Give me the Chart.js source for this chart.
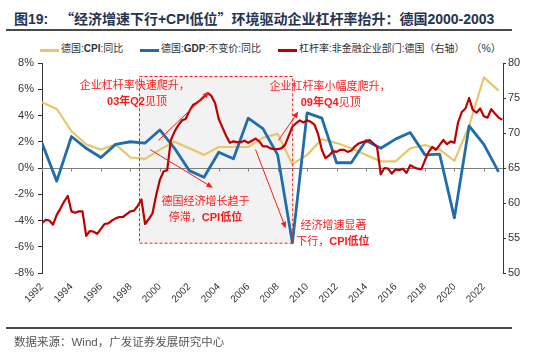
<!DOCTYPE html>
<html>
<head>
<meta charset="utf-8">
<script src="https://cdn.jsdelivr.net/npm/chart.js@4.4.0/dist/chart.umd.min.js"></script>
<style>
  body { margin: 0; width: 550px; height: 354px; background: #fff; position: relative; overflow: hidden;
         font-family: "Liberation Sans", "Noto Sans CJK SC", sans-serif; }
  #title { position: absolute; left: 14px; top: 8px; font-size: 14px; font-weight: bold; color: #233353; white-space: nowrap; }
  #title .q { font-family: "Noto Sans CJK SC", sans-serif; }
  .rule { position: absolute; left: 6px; width: 506px; height: 2px; background: #4a4a4a; }
  .leg { position: absolute; top: 43px; font-size: 10px; color: #333; white-space: nowrap; line-height: 12px; }
  .leg i { position: absolute; top: 6px; width: 19px; height: 3px; }
  .leg b { font-weight: bold; }
  #unit { position: absolute; left: 471px; top: 40px; font-size: 10.5px; color: #333; }
  #source { position: absolute; left: 14px; top: 333px; font-size: 11.5px; color: #555; white-space: nowrap; }
  canvas { position: absolute; left: 0; top: 0; }
</style>
</head>
<body>
<div id="title">图19:&nbsp;&nbsp;&nbsp;<span class="q">“</span>经济增速下行+CPI低位<span class="q">”</span>环境驱动企业杠杆率抬升：德国2000-2003</div>
<div class="rule" style="top:29px"></div>

<div class="leg" style="left:40px"><i style="left:0;background:#E6C76B"></i><span style="margin-left:21px">德国:<b>CPI</b>:同比</span></div>
<div class="leg" style="left:140px"><i style="left:0;background:#1F6DAD"></i><span style="margin-left:21px">德国:<b>GDP</b>:不变价:同比</span></div>
<div class="leg" style="left:278px"><i style="left:0;background:#C00000"></i><span style="margin-left:21px">杠杆率:非金融企业部门:德国（右轴）</span></div>
<div id="unit">（%）</div>

<canvas id="chart" width="550" height="354"></canvas>

<div class="rule" style="top:327px"></div>
<div id="source">数据来源：Wind，广发证券发展研究中心</div>

<script>
// ── Data ──
const years = [1992, 1993, 1994, 1995, 1996, 1997, 1998, 1999, 2000, 2001, 2002, 2003, 2004, 2005, 2006, 2007,
               2008, 2009, 2010, 2011, 2012, 2013, 2014, 2015, 2016, 2017, 2018, 2019, 2020, 2021, 2022, 2023];
// 德国:CPI:同比 (%)
const cpi = [5.0, 4.5, 2.8, 1.8, 1.4, 1.8, 0.8, 0.7, 1.4, 2.0, 1.5, 1.0, 1.6, 1.6, 1.6, 2.3,
             2.6, 0.3, 1.0, 2.2, 1.9, 1.5, 1.0, 0.5, 0.5, 1.5, 1.75, 1.4, 0.55, 3.2, 6.9, 5.9];
// 德国:GDP:不变价:同比 (%)
const gdp = [1.9, -1.0, 2.4, 1.5, 0.8, 1.8, 2.0, 1.9, 2.9, 1.5, -0.2, -0.7, 1.2, 0.7, 3.8, 3.0,
             1.0, -5.7, 4.2, 3.8, 0.4, 0.4, 2.1, 1.5, 2.2, 2.7, 1.0, 1.05, -3.8, 3.2, 1.8, -0.3];
// 杠杆率:非金融企业部门:德国 (%), quarterly from 1992Q1
const leverageStart = 1992;
const leverage = [
  57.1, 57.6, 57.5, 56.9, 58.3, 59.2, 60.2, 61.0, 58.8, 58.6, 58.8, 58.8,
  55.3, 56.0, 55.9, 55.6, 56.3, 57.0, 57.1, 57.5, 57.8, 58.0, 58.0, 58.4,
  58.8, 58.9, 59.6, 60.5, 57.0, 57.7, 58.5, 61.1, 63.3, 64.5, 64.7, 69.0,
  70.2, 71.1, 71.8, 72.0, 73.1, 74.0, 74.3, 74.7, 75.2, 75.7, 75.3, 74.3,
  72.0, 70.8, 69.6, 68.6, 68.8, 68.7, 68.7, 68.9, 68.6, 68.9, 69.2, 68.8,
  68.1, 68.1, 67.8, 67.7, 67.7, 67.8, 68.3, 69.6, 70.9, 71.4, 71.8, 71.5,
  71.8, 71.6, 71.2, 69.8, 67.6, 66.4, 66.8, 67.4, 67.3, 67.6, 67.6, 67.3,
  67.5, 68.1, 68.5, 68.7, 68.8, 69.0, 68.5, 68.0, 64.1, 65.0, 64.9, 64.2,
  64.8, 64.7, 64.9, 64.3, 65.4, 65.1, 64.9, 64.8, 66.1, 67.3, 68.0, 67.6,
  68.3, 69.0, 68.4, 68.8, 68.6, 71.5, 73.0, 73.5, 75.0, 73.3, 72.9, 73.5,
  72.4, 72.2, 73.4, 72.8, 72.2, 71.9
];

// ── Annotations (data coords: x = year, y = left axis %) ──
const shadeBox = { x0: 1998.6, x1: 2009, y0: -5.7, y1: 7 };
const arrows = [
  { from: [1999.9, 2.1], to: [2003.35, 5.8] },
  { from: [1999.35, 1.4], to: [2003.6, -1.5] },
  { from: [2006.5, 1.4], to: [2008.55, -4.6] },
  { from: [2008.05, 2.1], to: [2009.4, 4.3] },
];
const notes = [
  { x: 1998.3, y: 6.25, runs: [['企业杠杆率快速爬升，', false]] },
  { x: 1998.45, y: 5.05, runs: [['03年Q2', true], ['见顶', false]] },
  { x: 2003.1, y: -2.6, runs: [['德国经济增长趋于', false]] },
  { x: 2003.1, y: -3.8, runs: [['停滞，', false], ['CPI低位', true]] },
  { x: 2011.55, y: 6.2, runs: [['企业杠杆率小幅度爬升，', false]] },
  { x: 2011.6, y: 4.95, runs: [['09年Q4', true], ['见顶', false]] },
  { x: 2011.8, y: -4.45, runs: [['经济增速显著', false]] },
  { x: 2011.75, y: -5.6, runs: [['下行，', false], ['CPI低位', true]] },
];

const RED = '#FF1A1A';
const CJK = '"Liberation Sans", "Noto Sans CJK SC", sans-serif';

function drawRuns(ctx, runs, cx, cy) {
  const fontOf = b => (b ? 'bold ' : '') + '11px ' + CJK;
  const widths = runs.map(([t, b]) => { ctx.font = fontOf(b); return ctx.measureText(t).width; });
  let xx = cx - widths.reduce((a, w) => a + w, 0) / 2;
  runs.forEach(([t, b], i) => {
    ctx.font = fontOf(b);
    ctx.fillText(t, xx, cy);
    xx += widths[i];
  });
}

const annotPlugin = {
  id: 'annot',
  beforeDatasetsDraw(chart) {
    const { ctx, chartArea, scales: { x, y } } = chart;
    ctx.save();
    // shaded period
    const l = x.getPixelForValue(shadeBox.x0), r = x.getPixelForValue(shadeBox.x1);
    const t = y.getPixelForValue(shadeBox.y1), b = y.getPixelForValue(shadeBox.y0);
    ctx.fillStyle = '#F2F2F2';
    ctx.fillRect(l, t, r - l, b - t);
    // zero line with ticks
    const z = Math.round(y.getPixelForValue(0)) + 0.5;
    ctx.strokeStyle = '#7F7F7F';
    ctx.lineWidth = 1;
    ctx.beginPath();
    ctx.moveTo(chartArea.left, z);
    ctx.lineTo(chartArea.right, z);
    x.ticks.forEach(tk => {
      const px = Math.round(x.getPixelForValue(tk.value)) + 0.5;
      ctx.moveTo(px, z);
      ctx.lineTo(px, z + 3);
    });
    ctx.stroke();
    ctx.restore();
  },
  afterDatasetsDraw(chart) {
    const { ctx, scales: { x, y } } = chart;
    ctx.save();
    // dashed frame
    const l = x.getPixelForValue(shadeBox.x0), r = x.getPixelForValue(shadeBox.x1);
    const t = y.getPixelForValue(shadeBox.y1), b = y.getPixelForValue(shadeBox.y0);
    ctx.strokeStyle = RED;
    ctx.lineWidth = 1;
    ctx.setLineDash([3, 2]);
    ctx.strokeRect(Math.round(l) + 0.5, Math.round(t) + 0.5, r - l, b - t);
    ctx.setLineDash([]);
    // arrows
    ctx.fillStyle = RED;
    arrows.forEach(a => {
      const x0 = x.getPixelForValue(a.from[0]), y0 = y.getPixelForValue(a.from[1]);
      const x1 = x.getPixelForValue(a.to[0]), y1 = y.getPixelForValue(a.to[1]);
      const ang = Math.atan2(y1 - y0, x1 - x0);
      ctx.beginPath();
      ctx.moveTo(x0, y0);
      ctx.lineTo(x1 - 4 * Math.cos(ang), y1 - 4 * Math.sin(ang));
      ctx.stroke();
      ctx.beginPath();
      ctx.moveTo(x1, y1);
      ctx.lineTo(x1 - 7 * Math.cos(ang - 0.4), y1 - 7 * Math.sin(ang - 0.4));
      ctx.lineTo(x1 - 7 * Math.cos(ang + 0.4), y1 - 7 * Math.sin(ang + 0.4));
      ctx.closePath();
      ctx.fill();
    });
    // notes
    ctx.textAlign = 'left';
    ctx.textBaseline = 'middle';
    notes.forEach(n => drawRuns(ctx, n.runs, x.getPixelForValue(n.x), y.getPixelForValue(n.y)));
    ctx.restore();
  }
};

// ── Chart ──
const tickFont = { family: 'Liberation Sans', size: 11 };

new Chart(document.getElementById('chart'), {
  type: 'line',
  data: {
    datasets: [
      {
        label: '杠杆率:非金融企业部门:德国（右轴）',
        data: leverage.map((v, i) => ({ x: leverageStart + i / 4, y: v })),
        borderColor: '#C00000',
        borderWidth: 2.2,
        yAxisID: 'y1',
        order: 0,
      },
      {
        label: '德国:GDP:不变价:同比',
        data: years.map((yr, i) => ({ x: yr, y: gdp[i] })),
        borderColor: '#1F6DAD',
        borderWidth: 2.8,
        yAxisID: 'y',
        order: 1,
      },
      {
        label: '德国:CPI:同比',
        data: years.map((yr, i) => ({ x: yr, y: cpi[i] })),
        borderColor: '#E6C76B',
        borderWidth: 2.2,
        yAxisID: 'y',
        order: 2,
      },
    ],
  },
  options: {
    responsive: false,
    animation: false,
    layout: { padding: { top: 63, left: 0, right: 0, bottom: 0 } },
    elements: { point: { radius: 0 }, line: { tension: 0, borderJoinStyle: 'round' } },
    plugins: { legend: { display: false }, tooltip: { enabled: false } },
    scales: {
      x: {
        type: 'linear',
        min: 1992,
        max: 2023.3,
        grid: { display: false, drawTicks: false },
        border: { display: false },
        ticks: {
          stepSize: 2,
          includeBounds: false,
          autoSkip: false,
          minRotation: 45,
          maxRotation: 45,
          padding: 8,
          color: '#333',
          font: { family: 'Liberation Sans', size: 10 },
          callback: v => String(v),
        },
        afterFit: s => { s.height = 81; },
      },
      y: {
        position: 'left',
        min: -8,
        max: 8,
        grid: { drawOnChartArea: false, drawTicks: true, tickLength: 4, color: '#333' },
        border: { display: true, color: '#333', width: 1 },
        ticks: { stepSize: 2, padding: 4, color: '#333', font: tickFont, callback: v => v + '%' },
        afterFit: s => { s.width = 42; },
      },
      y1: {
        position: 'right',
        min: 50,
        max: 80,
        grid: { drawOnChartArea: false, drawTicks: true, tickLength: 3, color: '#333' },
        border: { display: true, color: '#333', width: 1 },
        ticks: { stepSize: 5, padding: 2, color: '#333', font: tickFont },
        afterFit: s => { s.width = 47; },
      },
    },
  },
  plugins: [annotPlugin],
});
</script>
</body>
</html>
